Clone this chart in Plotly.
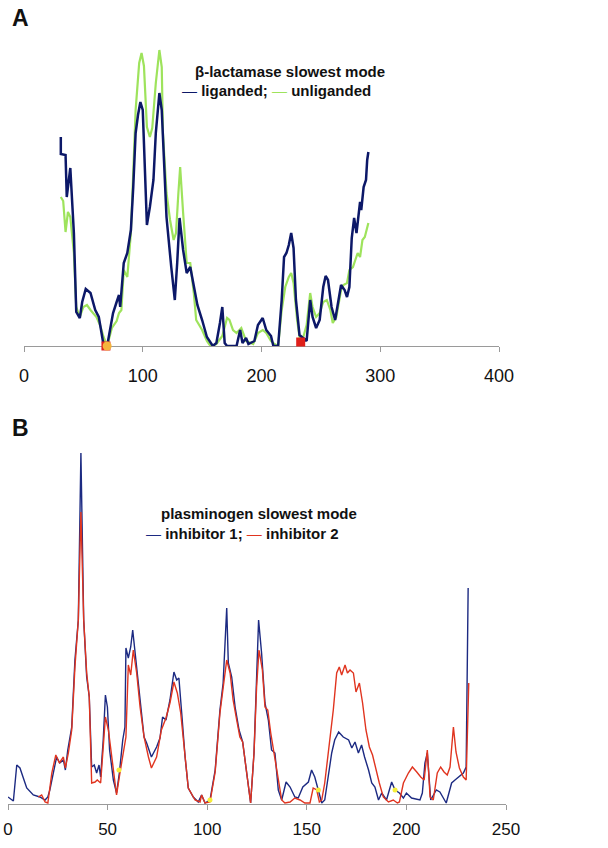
import plotly.graph_objects as go

# ---------------- Panel A: beta-lactamase slowest mode ----------------
a_lig_x = [31, 31, 35, 36, 39, 42, 44, 47, 49, 52, 56, 60, 63, 65, 67, 70, 72, 75, 78, 80, 81, 84, 87, 90, 92, 94, 96, 98, 100, 102, 103.5, 106, 109, 111, 114, 116, 118, 120, 124, 127, 129, 131, 134, 137, 140, 143, 146, 150, 154, 159, 162, 165, 167, 169, 171, 179, 182, 184, 187, 189, 194, 197, 201, 204, 208, 210, 214, 217, 219, 221, 223, 225, 227, 229, 232, 235, 238, 241, 243, 246, 249, 252, 254, 256, 259, 262, 265, 267, 270, 272, 274, 276, 278, 280, 283, 284, 286, 288, 289, 290]
a_lig_y = [209, 192, 191, 149, 178, 113, 34, 28, 44, 57, 53, 36, 29, 13, 1, 0, 13, 33, 44, 51, 39, 83, 93, 116, 159, 213, 231, 244, 236, 179, 121, 139, 166, 213, 253, 236, 179, 129, 79, 46, 83, 128, 96, 73, 79, 59, 41, 26, 9, 0, 3, 23, 39, 3, 0, 0, 16, 3, 8, 2, 5, 21, 28, 16, 10, 0, 0, 46, 89, 93, 101, 113, 98, 46, 11, 8, 5, 46, 29, 18, 26, 59, 70, 66, 39, 26, 46, 61, 56, 49, 59, 108, 128, 113, 144, 136, 159, 166, 186, 194]

a_unl_x = [31, 33, 35, 37, 39, 42, 44, 47, 50, 53, 56, 61, 64, 67, 70, 74, 78, 80, 82, 84, 87, 90, 92, 94, 97, 99, 101, 103.5, 106, 108, 111, 114, 116, 117, 120, 123, 126, 128, 130, 131.5, 134, 137, 140, 143, 145, 150, 154, 157, 162, 167, 171, 173, 176, 179, 183, 187, 193, 197, 201, 204, 208, 211, 214, 217, 220, 223, 225, 227, 230, 232, 235, 238, 241, 243, 246, 249, 252, 255, 258, 260, 263, 267, 269, 272, 274, 277, 279, 281, 283, 285, 287, 289, 290]
a_unl_y = [149, 145, 114, 134, 129, 93, 39, 29, 39, 41, 36, 29, 21, 9, 0, 18, 25, 33, 36, 76, 69, 113, 173, 236, 283, 293, 280, 219, 209, 218, 263, 296, 279, 213, 153, 126, 106, 113, 153, 179, 133, 83, 83, 53, 26, 16, 5, 0, 2, 10, 28, 26, 16, 13, 18, 5, 2, 13, 16, 13, 5, 2, 0, 36, 59, 69, 73, 63, 26, 9, 8, 21, 53, 39, 29, 33, 44, 46, 36, 23, 29, 56, 61, 63, 76, 79, 86, 93, 89, 106, 109, 119, 123]

a_square_x = [69, 233]
a_square_y = [0, 4]
a_circle_x = [70]
a_circle_y = [0]

a_ticks = [0, 100, 200, 300, 400]

# ---------------- Panel B: plasminogen slowest mode ----------------
b_inh1_x = [0, 2.7, 4.4, 6, 7.7, 9.4, 12.7, 16, 18.6, 20, 21, 23, 24.4, 26, 27.8, 28.8, 30, 32, 33.6, 35.3, 36.6, 38, 39.5, 40.8, 42, 43.3, 44.5, 45.7, 46.5, 47.8, 48.9, 49.9, 51, 52.9, 54.5, 55.9, 57.6, 58.7, 59.2, 60.4, 61.6, 62.6, 63.8, 66.3, 68.3, 69.6, 72, 74.6, 76.3, 77.6, 79.3, 81.3, 83.3, 84.7, 85.8, 87.2, 88.9, 90.5, 93, 95.5, 97.2, 98.9, 101.4, 104, 106.4, 108, 109.8, 110.6, 112.3, 114, 116, 117.8, 119.8, 121.8, 123.5, 124.5, 125.8, 127.3, 129, 130.7, 132.3, 134, 135.7, 137.4, 139.6, 141.6, 144, 145.7, 148, 150.8, 152.4, 154, 155.8, 157.5, 159, 160.8, 162.5, 164, 166, 168.3, 171, 172.6, 174.2, 175.9, 177.5, 179, 181, 182.6, 184.2, 186, 187.6, 190, 192.6, 194.3, 196.5, 198.5, 200, 202.6, 206.8, 208, 209.3, 210.5, 212.2, 215, 216.8, 220, 222.7, 224.4, 226, 228.6, 230, 231]
b_inh1_y = [7, 3, 39, 36, 26, 16, 9, 7, 4, 7, 14, 34, 47, 41, 44, 34, 54, 77, 144, 184, 351, 184, 127, 107, 37, 39, 31, 39, 27, 64, 109, 97, 54, 24, 11, 31, 64, 77, 156, 146, 157, 174, 151, 101, 67, 61, 47, 57, 66, 87, 84, 104, 132, 124, 126, 91, 47, 16, 7, 2, 9, 1, 4, 34, 94, 121, 196, 141, 127, 97, 74, 62, 31, 1, 51, 117, 184, 151, 101, 84, 54, 51, 14, 4, 22, 17, 7, 6, 17, 22, 34, 27, 12, 1, 4, 31, 51, 64, 72, 67, 64, 56, 62, 51, 59, 47, 34, 21, 17, 4, 11, 4, 22, 14, 11, 6, 11, 6, 4, 11, 41, 51, 4, 14, 12, 1, 21, 24, 27, 31, 37, 216]

b_inh2_x = [15.2, 16.9, 18.6, 20, 22, 24, 25.8, 27.8, 28.8, 30.3, 32, 33.6, 35.3, 36.6, 38, 39.5, 40.8, 42, 43.7, 44.8, 46.5, 47.8, 48.9, 50.4, 52, 54.5, 56.2, 57.9, 59.2, 60.4, 61.6, 62.9, 64.6, 66.3, 68.3, 70.5, 72, 74.6, 77, 79.3, 81.3, 83.3, 85, 86.7, 88.9, 90.5, 93.9, 96.4, 97.2, 98.9, 101.4, 104, 106.4, 108, 109.8, 111.5, 113, 114.8, 116.4, 117.8, 119.8, 121.8, 123.5, 124.8, 126, 127.7, 129, 130.4, 131.9, 134, 135.7, 137.4, 139, 141.6, 144, 146.6, 149, 151.6, 153.2, 155, 156.3, 157.5, 159, 161.6, 163.3, 165, 166.3, 167.5, 169.2, 170.4, 171.7, 173.4, 174.7, 176.4, 178, 179.7, 181.4, 183, 184.7, 186.4, 188.4, 191, 193.4, 195.5, 196.5, 198.5, 201, 203, 205.2, 207.2, 208.9, 210.5, 211.9, 213.5, 215.5, 217.2, 218.9, 220.5, 221.9, 223.6, 224.9, 226.6, 228.6, 230, 231.3]
b_inh2_y = [7, 9, 2, 1, 31, 49, 41, 47, 36, 51, 74, 137, 184, 292, 184, 131, 107, 21, 22, 24, 21, 56, 87, 74, 47, 9, 31, 54, 67, 139, 129, 154, 131, 97, 67, 47, 36, 47, 74, 86, 101, 122, 111, 91, 44, 16, 4, 2, 9, 1, 2, 32, 91, 117, 144, 131, 104, 84, 67, 62, 31, 1, 51, 117, 154, 134, 97, 94, 71, 44, 21, 4, 1, 2, 6, 4, 1, 1, 16, 14, 2, 4, 21, 64, 94, 131, 137, 129, 139, 131, 134, 131, 112, 121, 101, 74, 57, 49, 34, 21, 7, 2, 4, 1, 2, 21, 31, 37, 32, 27, 24, 54, 7, 4, 31, 37, 32, 29, 37, 77, 52, 36, 27, 24, 121]

b_mark_x = [55.7, 101.4, 155.8, 194.3]
b_mark_y = [34, 4, 14, 14]

b_ticks = [0, 50, 100, 150, 200, 250]

NAVY_A = "#0c1868"
GREEN_A = "#9ee35c"
NAVY_B = "#1c2a82"
RED_B = "#e0341f"

fig = go.Figure()

fig.add_trace(go.Scatter(x=a_unl_x, y=a_unl_y, mode="lines", line=dict(color=GREEN_A, width=2.2),
                         xaxis="x", yaxis="y", showlegend=False, hoverinfo="skip"))
fig.add_trace(go.Scatter(x=a_lig_x, y=a_lig_y, mode="lines", line=dict(color=NAVY_A, width=2.5),
                         xaxis="x", yaxis="y", showlegend=False, hoverinfo="skip"))
fig.add_trace(go.Scatter(x=a_square_x, y=a_square_y, mode="markers", cliponaxis=False,
                         marker=dict(symbol="square", size=9, color="#e0201a"),
                         xaxis="x", yaxis="y", showlegend=False, hoverinfo="skip"))
fig.add_trace(go.Scatter(x=a_circle_x, y=a_circle_y, mode="markers", cliponaxis=False,
                         marker=dict(symbol="circle", size=9, color="#f5b43c"),
                         xaxis="x", yaxis="y", showlegend=False, hoverinfo="skip"))

fig.add_trace(go.Scatter(x=b_inh1_x, y=b_inh1_y, mode="lines", line=dict(color=NAVY_B, width=1.4),
                         xaxis="x2", yaxis="y2", showlegend=False, hoverinfo="skip"))
fig.add_trace(go.Scatter(x=b_inh2_x, y=b_inh2_y, mode="lines", line=dict(color=RED_B, width=1.4),
                         xaxis="x2", yaxis="y2", showlegend=False, hoverinfo="skip"))
fig.add_trace(go.Scatter(x=b_mark_x, y=b_mark_y, mode="markers", cliponaxis=False,
                         marker=dict(symbol="circle", size=5, color="#f6ee3a"),
                         xaxis="x2", yaxis="y2", showlegend=False, hoverinfo="skip"))

W, H = 608, 848


def fx(p):
    return p / W


def fy(p):
    return 1 - p / H


axis_common = dict(showline=True, linecolor="#9a9a9a", linewidth=1, ticks="outside", ticklen=5,
                   tickcolor="#9a9a9a", showgrid=False, zeroline=False, layer="below traces",
                   automargin=False,
                   tickfont=dict(family="Liberation Sans, Arial, sans-serif", color="#111111"))

fig.update_layout(
    width=W, height=H, margin=dict(l=0, r=0, t=0, b=0, pad=0, autoexpand=False),
    paper_bgcolor="white", plot_bgcolor="white",
    xaxis=dict(domain=[fx(24), fx(499)], range=[0, 400], tickvals=a_ticks, anchor="y",
               ticklabelstandoff=8, **{**axis_common, "tickfont": dict(axis_common["tickfont"], size=18)}),
    yaxis=dict(domain=[fy(346), fy(40)], range=[0, 306], visible=False, anchor="x",
               automargin=False),
    xaxis2=dict(domain=[fx(8), fx(506)], range=[0, 250], tickvals=b_ticks, anchor="y2",
                ticklabelstandoff=5, **{**axis_common, "tickfont": dict(axis_common["tickfont"], size=17)}),
    yaxis2=dict(domain=[fy(804), fy(440)], range=[0, 364], visible=False, anchor="x2",
                automargin=False),
)

LEG_FONT = dict(family="Liberation Sans, Arial, sans-serif", size=15, color="#111111")
ann = [
    dict(text="<b>A</b>", x=fx(10), y=fy(18), xanchor="left", yanchor="middle",
         font=dict(family="Liberation Sans, Arial, sans-serif", size=23, color="#111111")),
    dict(text="<b>B</b>", x=fx(10), y=fy(428), xanchor="left", yanchor="middle",
         font=dict(family="Liberation Sans, Arial, sans-serif", size=23, color="#111111")),
    dict(text="<b>β-lactamase slowest mode</b>", x=fx(290), y=fy(72), xanchor="center", yanchor="middle",
         font=LEG_FONT),
    dict(text=f"<span style='color:{NAVY_A}'>—</span> <b>liganded;</b> <span style='color:{GREEN_A}'>—</span> <b>unliganded</b>",
         x=fx(276), y=fy(91), xanchor="center", yanchor="middle", font=LEG_FONT),
    dict(text="<b>plasminogen slowest mode</b>", x=fx(259), y=fy(513), xanchor="center", yanchor="middle",
         font=LEG_FONT),
    dict(text=f"<span style='color:{NAVY_B}'>—</span> <b>inhibitor 1;</b> <span style='color:{RED_B}'>—</span> <b>inhibitor 2</b>",
         x=fx(242), y=fy(533), xanchor="center", yanchor="middle", font=LEG_FONT),
]
for a in ann:
    a.update(xref="paper", yref="paper", showarrow=False)
fig.update_layout(annotations=ann)

# remove the browser's default 8px body margin so the figure fills the window exactly
fig.write_html("out.html", config={"displayModeBar": False},
               post_script="document.body.style.margin='0';")
